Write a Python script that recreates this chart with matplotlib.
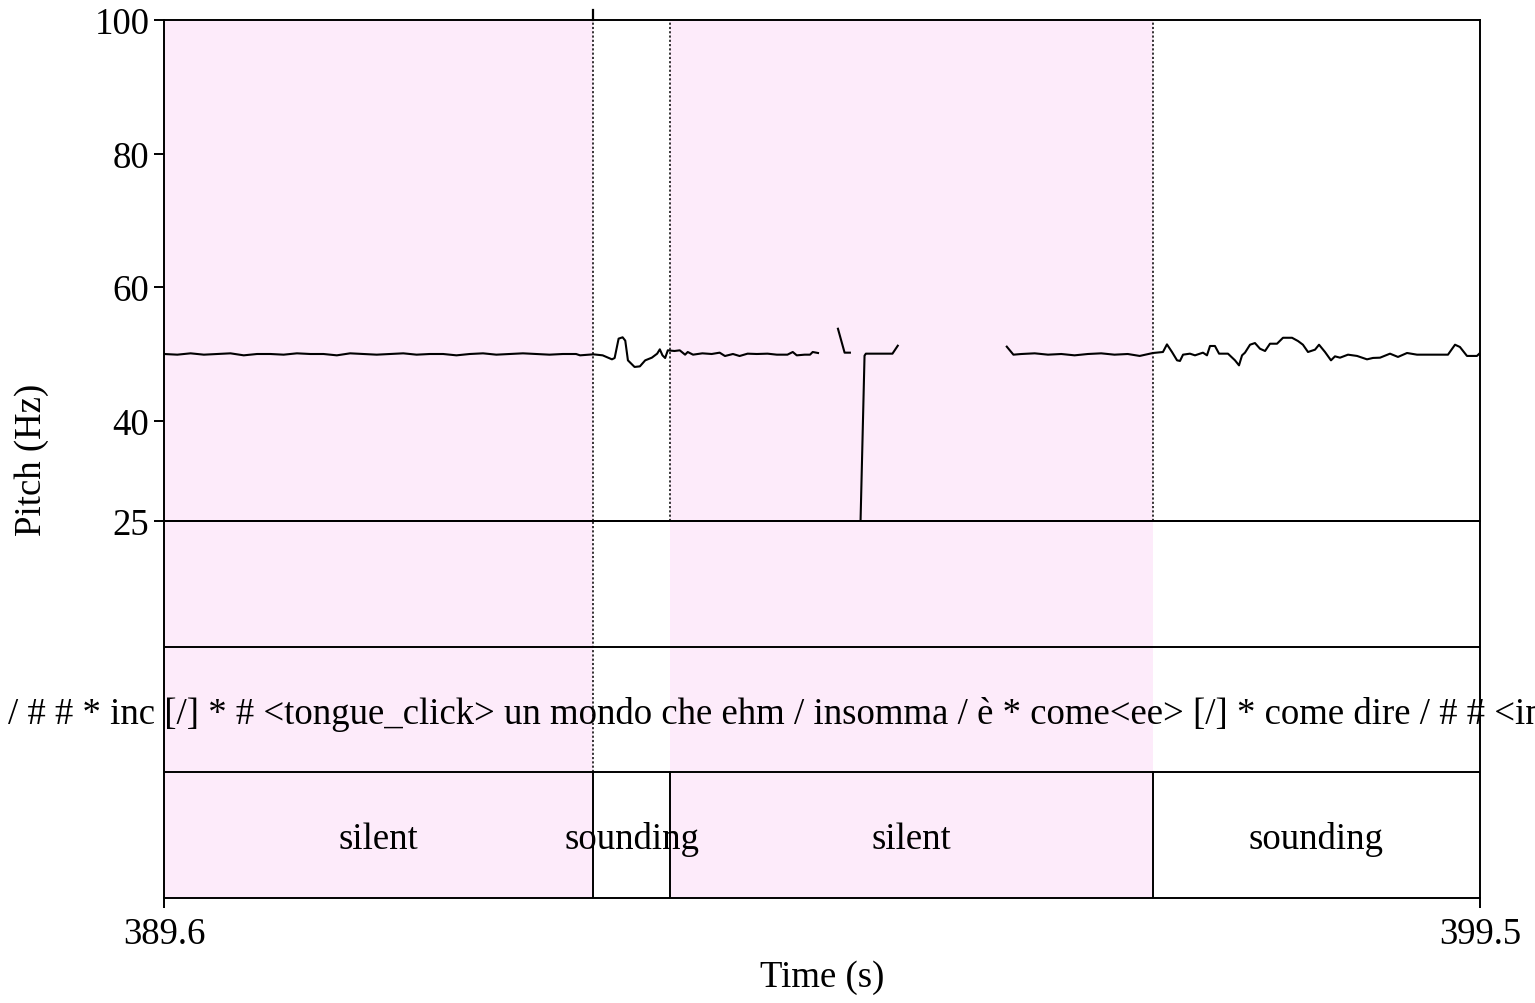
import numpy as np
import matplotlib.pyplot as plt

plt.rcParams['font.family'] = ['Liberation Serif', 'DejaVu Serif']

# time window and tier intervals (s)
t_start, t_end = 389.6, 399.5
bounds = [389.6, 392.83, 393.41, 397.04, 399.5]
labels = ['silent', 'sounding', 'silent', 'sounding']
transcript = "/ # # * inc [/] * # <tongue_click> un mondo che ehm / insomma / è * come<ee> [/] * come dire / # # <in"
transcript_t = 388.43

# pitch track, pieces separated by nan (unvoiced gaps)
pitch_t = [
    389.60, 389.70, 389.80, 389.90, 390.00, 390.10, 390.20, 390.30, 390.40, 390.50,
    390.60, 390.70, 390.80, 390.90, 391.00, 391.10, 391.20, 391.30, 391.40, 391.50,
    391.60, 391.70, 391.80, 391.90, 392.00, 392.10, 392.20, 392.30, 392.40, 392.50,
    392.60, 392.70, 392.73, 392.83, 392.90, 392.97, 392.99, 393.02, 393.05, 393.07,
    393.09, 393.14, 393.18, 393.22, 393.27, 393.31, 393.33, 393.35, 393.37, 393.39,
    393.44, 393.48, 393.52, 393.54, 393.58, 393.65, 393.72, 393.78, 393.82, 393.88,
    393.93, 393.99, 394.06, 394.14, 394.21, 394.29, 394.33, 394.36, 394.42, 394.46,
    394.48, 394.52, np.nan,
    394.67, 394.72, 394.76, np.nan,
    394.84, 394.87, 394.88, 395.08, 395.12, np.nan,
    395.94, 395.99, 396.05, 396.15, 396.25, 396.35, 396.45, 396.55, 396.65, 396.75,
    396.85, 396.94, 397.04, 397.115, 397.145, 397.183, 397.221, 397.243, 397.266, 397.318,
    397.356, 397.416, 397.446, 397.469, 397.506, 397.537, 397.604, 397.657, 397.687, 397.710,
    397.732, 397.770, 397.807, 397.845, 397.883, 397.920, 397.973, 398.018, 398.086, 398.131,
    398.168, 398.206, 398.259, 398.289, 398.334, 398.379, 398.409, 398.447, 398.507, 398.575,
    398.650, 398.695, 398.748, 398.823, 398.883, 398.951, 399.026, 399.199, 399.259, 399.312,
    399.349, 399.402, 399.477, 399.50,
]
pitch_hz = [
    50.0, 49.9, 50.1, 49.9, 50.0, 50.1, 49.8, 50.0, 50.0, 49.9,
    50.1, 50.0, 50.0, 49.8, 50.1, 50.0, 49.9, 50.0, 50.1, 49.9,
    50.0, 50.0, 49.8, 50.0, 50.1, 49.9, 50.0, 50.1, 50.0, 49.9,
    50.0, 50.0, 49.8, 49.95, 49.8, 49.2, 49.4, 52.3, 52.5, 52.0,
    49.05, 48.06, 48.15, 49.05, 49.45, 50.05, 50.7, 49.8, 49.4, 50.55,
    50.45, 50.55, 49.9, 50.3, 49.9, 50.1, 50.0, 50.2, 49.7, 50.0,
    49.7, 50.05, 50.0, 50.05, 49.9, 49.9, 50.3, 49.8, 49.9, 49.9,
    50.3, 50.15, np.nan,
    53.78, 50.2, 50.2, np.nan,
    25.0, 49.75, 50.05, 50.05, 51.24, np.nan,
    51.1, 49.9, 50.0, 50.1, 49.9, 50.0, 49.8, 50.0, 50.1, 49.9,
    50.0, 49.71, 50.15, 50.30, 51.44, 50.30, 49.05, 48.96, 49.90, 50.05,
    49.80, 50.20, 49.80, 51.20, 51.20, 50.05, 50.05, 49.05, 48.30, 49.80,
    50.20, 51.39, 51.64, 50.79, 50.45, 51.54, 51.54, 52.43, 52.43, 51.94,
    51.39, 50.30, 50.65, 51.39, 50.30, 49.05, 49.65, 49.45, 49.90, 49.71,
    49.20, 49.41, 49.45, 50.05, 49.56, 50.15, 49.90, 49.90, 49.90, 51.39,
    51.05, 49.71, 49.71, 50.15,
]

pink = '#fdebfa'
fs = 26.5

fig = plt.figure(figsize=(15.35, 10.04), dpi=100)
ax = fig.add_axes([164/1535, 1 - 522/1004, 1316/1535, 501/1004])
tx = fig.add_axes([164/1535, 1 - 899/1004, 1316/1535, 377/1004], sharex=ax)
tx.patch.set_visible(False)

for i, lab in enumerate(labels):
    a, b = bounds[i], bounds[i + 1]
    if lab == 'silent':
        ax.axvspan(a, b, color=pink, lw=0, zorder=0)
        tx.axvspan(a, b, color=pink, lw=0, zorder=0)
    tx.text((a + b) / 2, 0.47, lab, ha='center', va='center', fontsize=fs)

# interval boundaries
for b in bounds[1:-1]:
    ax.axvline(b, color='black', lw=1.1, ls=(0, (1.4, 1.4)), zorder=1)
    tx.plot([b, b], [0, 1], color='black', lw=1.4)
# first boundary carries on down through the upper tiers and above the frame
tx.plot([bounds[1], bounds[1]], [1, 3], color='black', lw=1.1, ls=(0, (1.4, 1.4)))
ax.plot([bounds[1], bounds[1]], [100, 101.5], color='black', lw=1.6, clip_on=False)

ax.plot(pitch_t, pitch_hz, color='black', lw=1.5, zorder=3)

ax.set_xlim(t_start, t_end)
ax.set_ylim(25, 100)
ax.set_yticks([25, 40, 60, 80, 100])
ax.tick_params(axis='y', direction='out', length=7.5, width=1.4, labelsize=fs, pad=3)
ax.tick_params(axis='x', bottom=False, labelbottom=False)
for s in ax.spines.values():
    s.set_linewidth(1.4)

tx.set_ylim(0, 3)
tx.set_yticks([])
tx.axhline(1, color='black', lw=1.4)
tx.axhline(2, color='black', lw=1.4)
tx.axhline(3, color='black', lw=1.4)
for s in tx.spines.values():
    s.set_linewidth(1.4)
tx.set_xticks([t_start, t_end])
tx.set_xticklabels(['389.6', '399.5'])
tx.tick_params(axis='x', direction='out', length=7.5, width=1.4, labelsize=fs, pad=6)

tx.text(transcript_t, 1.47, transcript, ha='left', va='center', fontsize=fs, clip_on=False)

fig.text(32/1535, 1 - 460/1004, 'Pitch (Hz)', rotation=90, ha='center', va='center', fontsize=fs)
fig.text(822/1535, 1 - 978/1004, 'Time (s)', ha='center', va='center', fontsize=fs)

fig.savefig('out.png', dpi=100)
